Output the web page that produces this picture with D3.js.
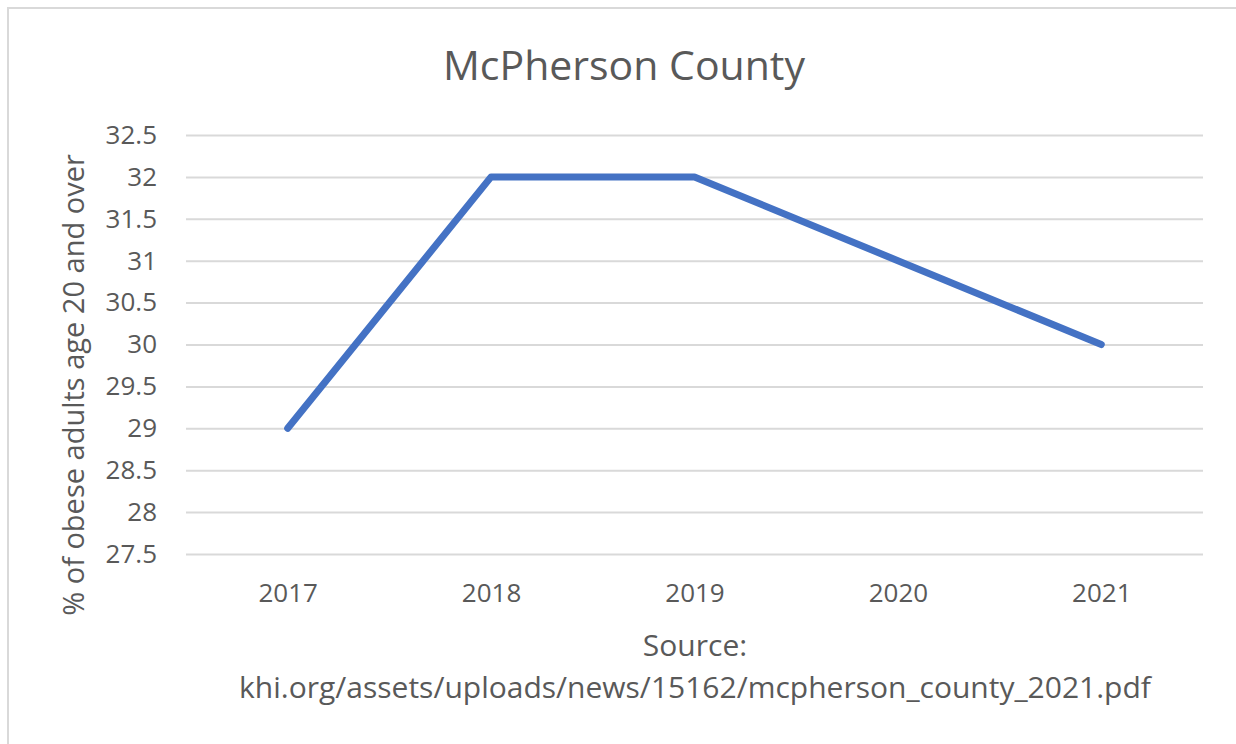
<!DOCTYPE html>
<html>
<head>
<meta charset="utf-8">
<script src="https://cdn.jsdelivr.net/npm/d3@7"></script>
<style>
  body { margin: 0; background: #fff; }
  text { font-family: "Open Sans", "Noto Sans", sans-serif; fill: #595959; }
</style>
</head>
<body>
<svg width="1236" height="744"></svg>
<script>
var years = ["2017", "2018", "2019", "2020", "2021"];
var obese = [29, 32, 32, 31, 30];
var yTicks = [27.5, 28, 28.5, 29, 29.5, 30, 30.5, 31, 31.5, 32, 32.5];

var plotLeft = 186, plotRight = 1203, plotTop = 135, plotBottom = 554;

var svg = d3.select("svg");

// outer chart frame
svg.append("rect")
    .attr("x", 8).attr("y", 8)
    .attr("width", 1250).attr("height", 760)
    .attr("fill", "none")
    .attr("stroke", "#d9d9d9")
    .attr("stroke-width", 2);

var xScale = d3.scalePoint()
    .domain(years)
    .range([plotLeft, plotRight])
    .padding(0.5);

var yScale = d3.scaleLinear()
    .domain([27.5, 32.5])
    .range([plotBottom, plotTop]);

// gridlines
svg.append("g")
    .attr("transform", "translate(" + plotLeft + ",0)")
    .call(d3.axisLeft(yScale).tickValues(yTicks).tickSize(-(plotRight - plotLeft)).tickFormat(""))
    .call(g => g.select(".domain").remove())
    .call(g => g.selectAll("line").attr("stroke", "#d9d9d9").attr("stroke-width", 2));

// y tick labels
svg.append("g")
    .attr("transform", "translate(" + plotLeft + ",0)")
    .call(d3.axisLeft(yScale).tickValues(yTicks).tickSize(0).tickPadding(29).tickFormat(d3.format("")))
    .call(g => g.select(".domain").remove())
    .call(g => g.selectAll("text").style("font-size", "26px").attr("fill", "#595959"));

// x tick labels
svg.append("g")
    .attr("transform", "translate(0," + plotBottom + ")")
    .call(d3.axisBottom(xScale).tickSize(0).tickPadding(30))
    .call(g => g.select(".domain").remove())
    .call(g => g.selectAll("text").style("font-size", "26px").attr("fill", "#595959"));

// line
var line = d3.line()
    .x((d, i) => xScale(years[i]))
    .y(d => yScale(d));

svg.append("path")
    .datum(obese)
    .attr("d", line)
    .attr("fill", "none")
    .attr("stroke", "#4472c4")
    .attr("stroke-width", 7)
    .attr("stroke-linecap", "round")
    .attr("stroke-linejoin", "round");

// title
svg.append("text")
    .attr("x", 624).attr("y", 80)
    .attr("text-anchor", "middle")
    .style("font-size", "41px")
    .text("McPherson County");

// y axis title
svg.append("text")
    .attr("transform", "translate(84,385) rotate(-90)")
    .attr("text-anchor", "middle")
    .style("font-size", "29px")
    .text("% of obese adults age 20 and over");

// x axis title
svg.append("text")
    .attr("x", 695).attr("y", 656)
    .attr("text-anchor", "middle")
    .style("font-size", "30px")
    .text("Source:");
svg.append("text")
    .attr("x", 695).attr("y", 698)
    .attr("text-anchor", "middle")
    .style("font-size", "30px")
    .text("khi.org/assets/uploads/news/15162/mcpherson_county_2021.pdf");
</script>
</body>
</html>
